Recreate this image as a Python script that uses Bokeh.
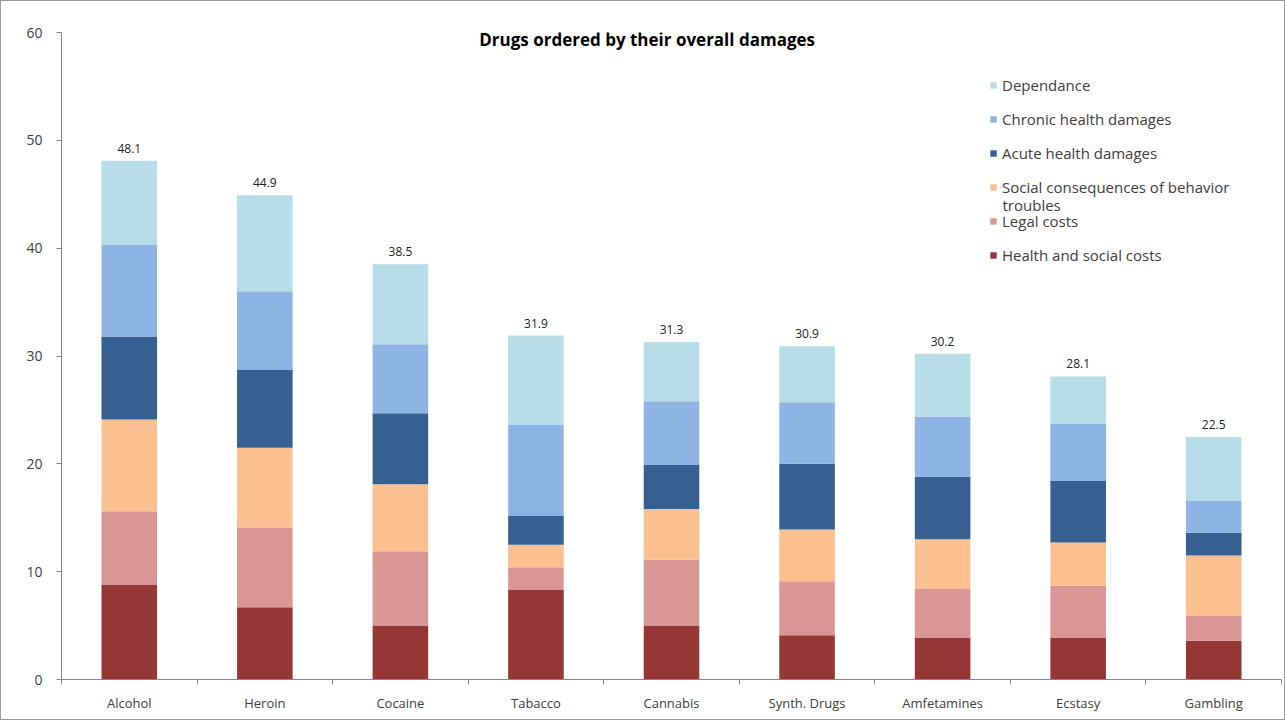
from bokeh.plotting import figure
from bokeh.models import (ColumnDataSource, FixedTicker, Legend, LegendItem,
                          Label, LabelSet, Range1d)
from bokeh.core.properties import value
from bokeh.embed import file_html
from bokeh.resources import INLINE

drugs = ["Alcohol", "Heroin", "Cocaine", "Tabacco", "Cannabis",
         "Synth. Drugs", "Amfetamines", "Ecstasy", "Gambling"]
health_social = [8.8, 6.7, 5.0, 8.3, 5.0, 4.1, 3.9, 3.9, 3.6]
legal = [6.8, 7.4, 6.9, 2.1, 6.1, 5.0, 4.5, 4.8, 2.3]
social = [8.5, 7.4, 6.2, 2.1, 4.7, 4.8, 4.6, 4.0, 5.6]
acute = [7.7, 7.2, 6.6, 2.7, 4.1, 6.1, 5.8, 5.7, 2.1]
chronic = [8.5, 7.3, 6.4, 8.4, 5.9, 5.7, 5.6, 5.3, 3.0]
dependance = [7.8, 8.9, 7.4, 8.3, 5.5, 5.2, 5.8, 4.4, 5.9]
totals = [48.1, 44.9, 38.5, 31.9, 31.3, 30.9, 30.2, 28.1, 22.5]

series_keys = ["health_social", "legal", "social", "acute", "chronic", "dependance"]
series_names = ["Health and social costs", "Legal costs",
                "Social consequences of behavior", "Acute health damages",
                "Chronic health damages", "Dependance"]
colors = ["#953735", "#D99694", "#FAC090", "#376092", "#8EB4E3", "#B7DDE8"]
y_ticks = [0, 10, 20, 30, 40, 50, 60]

xs = [i + 0.5 for i in range(len(drugs))]
src = ColumnDataSource(dict(
    x=xs, health_social=health_social, legal=legal, social=social,
    acute=acute, chronic=chronic, dependance=dependance,
    total=totals, total_txt=["%.1f" % t for t in totals]))

FONT = "Open Sans"
TXT = "#404040"

p = figure(width=1285, height=720, output_backend="svg", toolbar_location=None,
           x_range=Range1d(0, len(drugs)), y_range=Range1d(0, 60),
           min_border_left=60, min_border_right=5, min_border_top=31,
           min_border_bottom=42)
p.outline_line_color = None
p.grid.visible = False
p.background_fill_color = "white"
p.border_fill_color = "white"

rs = p.vbar_stack(series_keys, x="x", width=0.41, color=colors, line_color=None,
                  source=src)

labels = LabelSet(x="x", y="total", text="total_txt", source=src,
                  text_align="center", text_baseline="bottom", y_offset=8,
                  text_font=value(FONT), text_font_size=value("12px"),
                  text_color="#222222")
p.add_layout(labels)

# axes
xa = p.xaxis[0]
xa.ticker = FixedTicker(ticks=xs, minor_ticks=list(range(len(drugs) + 1)))
xa.major_label_overrides = {x: d for x, d in zip(xs, drugs)}
xa.major_tick_out = 0
xa.major_tick_in = 0
xa.minor_tick_out = 5
xa.minor_tick_in = 0
xa.minor_tick_line_color = "#868686"
xa.axis_line_color = "#868686"
xa.major_label_text_font = FONT
xa.major_label_text_font_size = "13px"
xa.major_label_text_color = TXT
xa.major_label_standoff = 9

ya = p.yaxis[0]
ya.ticker = FixedTicker(ticks=y_ticks)
ya.minor_tick_line_color = None
ya.major_tick_out = 5
ya.major_tick_in = 0
ya.major_tick_line_color = "#868686"
ya.axis_line_color = "#868686"
ya.major_label_text_font = FONT
ya.major_label_text_font_size = "14px"
ya.major_label_text_color = TXT
ya.major_label_standoff = 14

# title inside plot
p.add_layout(Label(x=4.32, y=59.35, text="Drugs ordered by their overall damages",
                   text_align="center", text_baseline="middle",
                   text_font=FONT, text_font_size="17px", text_font_style="bold",
                   text_color="#000000"))

# legend
items = [LegendItem(label=n, renderers=[r]) for n, r in zip(series_names, rs)][::-1]
leg = Legend(items=items, location=(928, 414), orientation="vertical",
             glyph_width=8, glyph_height=8, label_height=16, spacing=14,
             label_standoff=5, padding=0, margin=0,
             border_line_color=None, background_fill_alpha=0,
             label_text_font=FONT, label_text_font_size="15px",
             label_text_color=TXT)
p.add_layout(leg)
p.add_layout(Label(x=941, x_units="screen", y=43.96, text="troubles",
                   text_align="left", text_baseline="middle", text_font=FONT,
                   text_font_size="15px", text_color=TXT))

p.styles = {"border": "1px solid #9a9a9a", "box-sizing": "border-box"}

open("out.html", "w").write(file_html(p, INLINE))
